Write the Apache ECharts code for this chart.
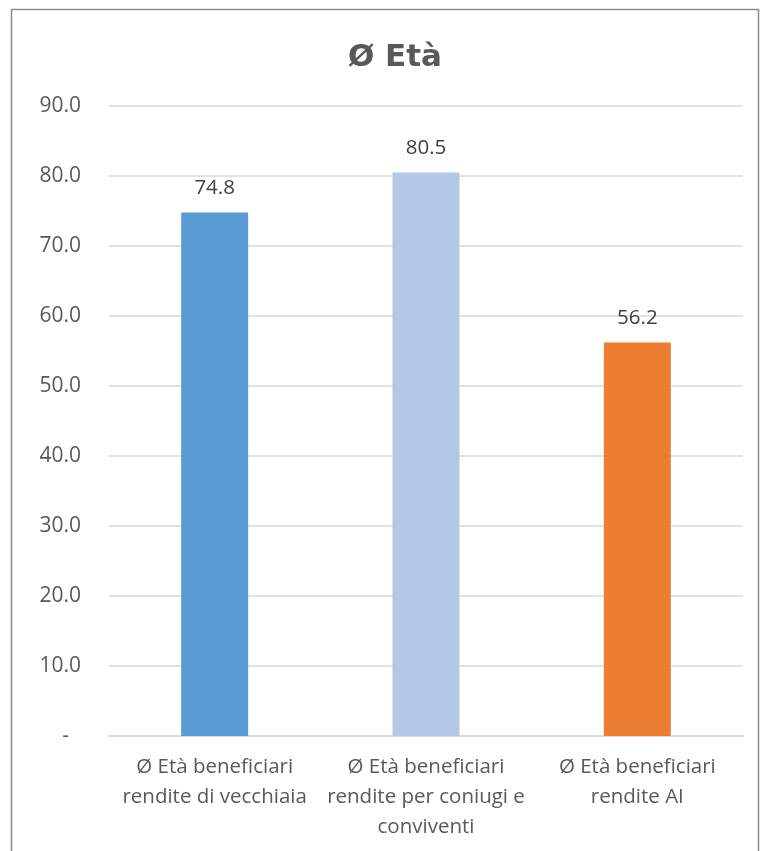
<!DOCTYPE html>
<html>
<head>
<meta charset="utf-8">
<script src="https://cdn.jsdelivr.net/npm/echarts@6/dist/echarts.min.js"></script>
<style>
  html, body { margin: 0; padding: 0; background: #fff; }
  #chart { width: 761px; height: 851px; }
</style>
</head>
<body>
<div id="chart"></div>
<script>
const titleText = 'Ø Età';
const categories = [
  'Ø Età beneficiari\nrendite di vecchiaia',
  'Ø Età beneficiari\nrendite per coniugi e\nconviventi',
  'Ø Età beneficiari\nrendite AI'
];
const values = [74.8, 80.5, 56.2];
const barColors = ['#5B9BD5', '#B4C7E7', '#ED7D31'];
const yTicks = [0, 10, 20, 30, 40, 50, 60, 70, 80, 90];

const chart = echarts.init(document.getElementById('chart'), null, { renderer: 'canvas' });

chart.setOption({
  backgroundColor: '#ffffff',
  animation: false,
  title: {
    text: titleText,
    left: 390,
    top: 37,
    textAlign: 'center',
    textStyle: {
      fontFamily: 'DejaVu Sans, sans-serif',
      fontWeight: 'bold',
      fontSize: 31,
      color: '#595959'
    }
  },
  graphic: [{
    type: 'rect',
    shape: { x: 11.5, y: 9.5, width: 747, height: 860 },
    style: { fill: 'none', stroke: '#8c8c8c', lineWidth: 1.5 },
    silent: true
  }],
  grid: { left: 109, right: 18, top: 106, bottom: 115, containLabel: false },
  xAxis: {
    type: 'category',
    data: categories,
    axisLine: { show: true, lineStyle: { color: '#D9D9D9', width: 1.5 } },
    axisTick: { show: false },
    axisLabel: {
      interval: 0,
      margin: 16,
      fontFamily: 'Open Sans, sans-serif',
      fontSize: 20.5,
      lineHeight: 30,
      color: '#595959'
    }
  },
  yAxis: {
    type: 'value',
    min: yTicks[0],
    max: yTicks[yTicks.length - 1],
    interval: 10,
    axisLine: { show: false },
    axisTick: { show: false },
    splitLine: { show: true, lineStyle: { color: '#D9D9D9', width: 1.5 } },
    axisLabel: {
      margin: 28,
      fontFamily: 'Open Sans, sans-serif',
      fontSize: 21,
      color: '#595959',
      formatter: function (v) {
        return v === 0 ? '{dash|-}' : v.toFixed(1);
      },
      rich: {
        dash: { fontFamily: 'Open Sans, sans-serif', fontSize: 21, color: '#595959', padding: [0, 12, 0, 0] }
      }
    }
  },
  series: [{
    type: 'bar',
    barWidth: 67,
    data: values.map(function (v, i) {
      return { value: v, itemStyle: { color: barColors[i] } };
    }),
    label: {
      show: true,
      position: 'top',
      distance: 14,
      fontFamily: 'Open Sans, sans-serif',
      fontSize: 20.5,
      color: '#404040',
      formatter: function (p) { return p.value.toFixed(1); }
    }
  }]
});
</script>
</body>
</html>
